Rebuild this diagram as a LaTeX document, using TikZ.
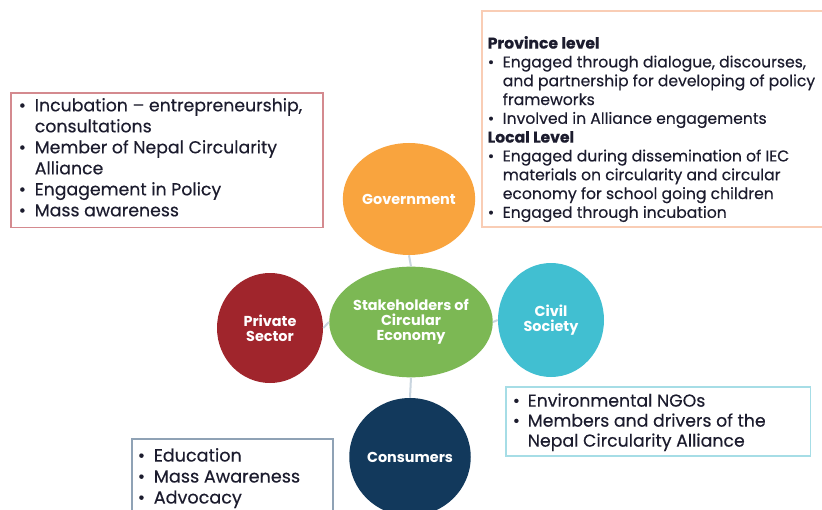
\documentclass[tikz,border=0pt]{standalone}
\usepackage{fontspec}
\setmainfont{Poppins}
\newfontfamily\medfont{Poppins}[FakeBold=0.3]
\usetikzlibrary{shapes.geometric}

\definecolor{govorange}{HTML}{F9A43E}
\definecolor{coregreen}{HTML}{7CB854}
\definecolor{privred}{HTML}{A0252C}
\definecolor{civilcyan}{HTML}{41BFD1}
\definecolor{consnavy}{HTML}{12395C}
\definecolor{linkgray}{HTML}{C9D5DF}
\definecolor{textdark}{HTML}{1C1C2E}
\definecolor{privborder}{HTML}{D48A8F}
\definecolor{govborder}{HTML}{F9CDB5}
\definecolor{civilborder}{HTML}{A6DDE6}
\definecolor{consborder}{HTML}{8FA2B5}

% bullet item with hanging indent, and a fixed size text panel
\newcommand{\pitem}[2][1.1em]{\par\hangindent=#1\hangafter=1\noindent\hbox to #1{\textbullet\hfil}#2}
\newcommand{\panel}[3]{\begin{minipage}[t][#2][t]{#1}\raggedright\medfont #3\end{minipage}}

\tikzset{
  stake/.style={ellipse, fill=#1, text=white, align=center, inner sep=0pt,
    font=\fontsize{10.8}{11.25}\selectfont\bfseries},
  infobox/.style={draw=#1, line width=1.2pt, anchor=north west, text=textdark},
  link/.style={draw=linkgray, line width=1.5pt}
}

\begin{document}
\begin{tikzpicture}[x=0.75pt, y=-0.75pt]
  \useasboundingbox (0,0) rectangle (822,510);
  \clip (0,0) rectangle (822,510);
  \fill[white] (0,0) rectangle (822,510);

  % Stakeholder circles
  \node[stake=govorange, minimum width=92pt, minimum height=84pt] (gov) at (409,199) {Government};
  \node[stake=coregreen, minimum width=115.5pt, minimum height=83pt] (core) at (411,322) {Stakeholders of\\Circular\\Economy};
  \node[stake=privred, minimum width=79.5pt, minimum height=82.5pt] (priv) at (270,328) {Private\\Sector};
  \node[stake=civilcyan, minimum width=79.5pt, minimum height=85.5pt] (civil) at (551,320) {Civil\\Society};
  \node[stake=consnavy, minimum width=86pt, minimum height=88.5pt] (cons) at (410,457) {Consumers};

  % Connectors to the centre
  \draw[link] (gov.south) -- (core.north);
  \draw[link] (priv.east) -- (core.west);
  \draw[link] (core.east) -- (civil.west);
  \draw[link] (core.south) -- (cons.north);

  % Private sector box
  \node[infobox=privborder, inner xsep=6pt, inner ysep=4pt] (privbox) at (10,92)
    {\panel{222pt}{93pt}{\fontsize{13}{15.75}\selectfont
      \pitem[12pt]{Incubation – entrepreneurship,\newline consultations}
      \pitem[12pt]{Member of Nepal Circularity\newline Alliance}
      \pitem[12pt]{Engagement in Policy}
      \pitem[12pt]{Mass awareness}}};

  % Government box
  \node[infobox=govborder, inner xsep=4.5pt, inner ysep=4pt] (govbox) at (481,10)
    {\panel{262pt}{154pt}{\fontsize{11.7}{14.1}\selectfont\vspace*{15pt}%
      \noindent\textbf{Province level}
      \pitem[11.25pt]{Engaged through dialogue, discourses,\newline and partnership for developing of policy\newline frameworks}
      \pitem[11.25pt]{Involved in Alliance engagements}
      \par\noindent\textbf{Local Level}
      \pitem[11.25pt]{Engaged during dissemination of IEC\newline materials on circularity and circular\newline economy for school going children}
      \pitem[11.25pt]{Engaged through incubation}}};

  % Civil society box
  \node[infobox=civilborder, inner xsep=5.25pt, inner ysep=5pt] (civilbox) at (505,386)
    {\panel{218pt}{42pt}{\fontsize{13}{15}\selectfont
      \pitem[11.25pt]{Environmental NGOs}
      \pitem[11.25pt]{Members and drivers of the\newline Nepal Circularity Alliance}}};

  % Consumers box
  \node[infobox=consborder, inner xsep=4.5pt, inner ysep=7pt] (consbox) at (131,438)
    {\panel{142pt}{48pt}{\fontsize{13.2}{15.75}\selectfont
      \pitem[12pt]{Education}
      \pitem[12pt]{Mass Awareness}
      \pitem[12pt]{Advocacy}}};
\end{tikzpicture}
\end{document}
